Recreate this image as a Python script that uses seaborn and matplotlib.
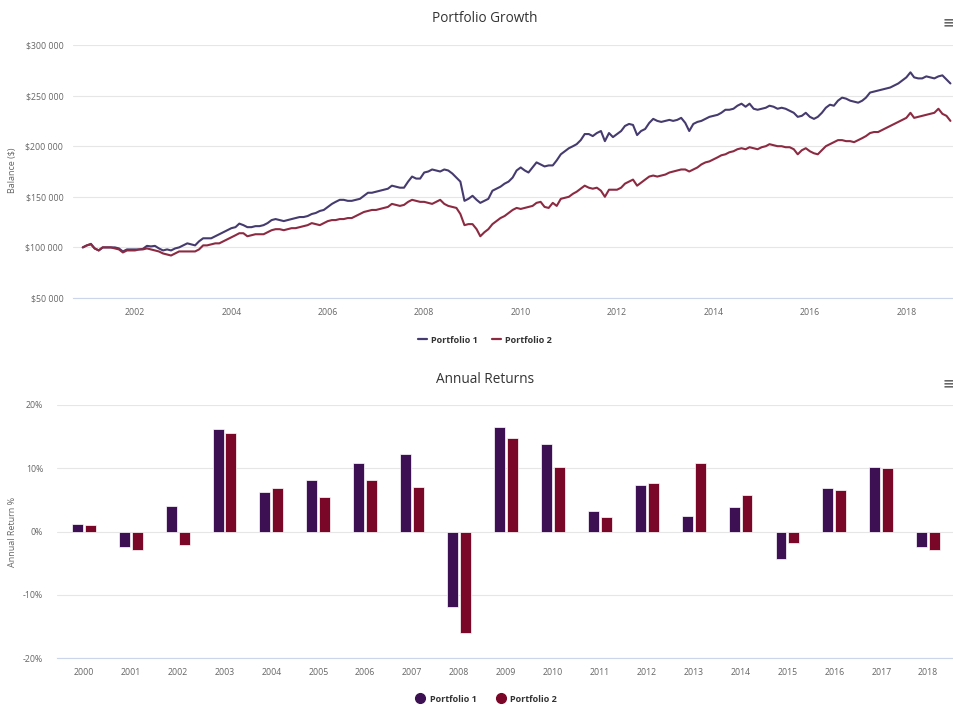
import matplotlib
matplotlib.use("Agg")
import matplotlib.pyplot as plt
import matplotlib.dates as mdates
from matplotlib.lines import Line2D
from matplotlib.ticker import FuncFormatter, MultipleLocator
import numpy as np
import pandas as pd
import seaborn as sns


# month-end balances in $1000, Dec 2000 .. Dec 2018 (one row per year)
PORTFOLIO_1 = [
    100,
    102, 103.5, 99, 97, 100, 100, 100, 100, 99, 96, 98, 98,
    98, 98, 98.5, 101.5, 101, 101.5, 99, 97, 98, 97, 99, 100,
    102, 104, 103, 102, 106, 109, 109, 109, 111, 113, 115, 117,
    119, 120, 123.5, 122, 120, 120, 121, 121, 122, 124, 127, 128,
    127, 126, 127, 128, 129, 130, 130, 131, 133, 134, 136, 137,
    140, 143, 145, 147, 147, 146, 146, 147, 148, 151, 154, 154,
    155, 156, 157, 158, 161, 160, 159, 159, 165, 170, 168, 168,
    174, 175, 177, 176, 175, 177, 176, 173, 169, 165, 146, 148,
    151, 147, 144, 146, 148, 156, 158, 160, 163, 165, 169, 176,
    179, 176, 174, 179, 184, 182, 180, 181, 181, 186, 192, 195,
    198, 200, 202, 206, 212, 212, 210, 213, 215, 205, 213, 209,
    212, 215, 220, 222, 221, 211, 215, 217, 223, 227, 225, 224,
    225, 226, 225, 226, 228, 223, 215, 222, 224, 225, 227, 229,
    230, 231, 233, 236, 236, 237, 240, 242, 239, 242, 237, 236,
    237, 238, 240, 239, 237, 238, 237, 235, 233, 229, 230, 233,
    229, 227, 229, 233, 238, 241, 240, 245, 248, 247, 245, 244,
    243, 245, 248, 253, 254, 255, 256, 257, 258, 260, 262, 265,
    268, 273, 268, 267, 267, 269, 268, 267, 269, 270, 266, 262,
]

PORTFOLIO_2 = [
    100,
    102, 103, 99, 97, 100, 100, 100, 99, 98, 95, 97, 97,
    97, 98, 98, 99, 98, 97, 96, 94, 93, 92, 94, 96,
    96, 96, 96, 96, 98, 102, 102, 103, 104, 104, 106, 108,
    110, 112, 114, 114, 111, 112, 113, 113, 113, 115, 117, 118,
    118, 117, 118, 119, 119, 120, 121, 122, 124, 123, 122, 124,
    126, 127, 127, 128, 128, 129, 129, 131, 133, 135, 136, 137,
    137, 138, 139, 140, 143, 142, 141, 142, 145, 147, 146, 145,
    145, 144, 143, 145, 147, 143, 141, 140, 139, 133, 122, 123,
    123, 118, 111, 115, 118, 123, 126, 129, 131, 134, 137, 139,
    138, 139, 140, 141, 144, 145, 140, 139, 144, 141, 148, 149,
    150, 153, 155, 158, 161, 159, 158, 159, 156, 150, 157, 157,
    157, 159, 163, 165, 167, 161, 164, 167, 170, 171, 170, 171,
    172, 174, 175, 176, 177, 177, 175, 177, 179, 182, 184, 185,
    187, 189, 191, 192, 194, 195, 197, 198, 197, 199, 198, 197,
    199, 200, 202, 201, 200, 200, 199, 199, 197, 192, 196, 198,
    195, 193, 192, 196, 200, 202, 204, 206, 206, 205, 205, 204,
    206, 208, 210, 213, 214, 214, 216, 218, 220, 222, 224, 226,
    228, 233, 228, 229, 230, 231, 232, 233, 237, 232, 230, 225,
]

YEARS = [str(y) for y in range(2000, 2019)]
RETURNS_1 = [1.2, -2.4, 4.0, 16.2, 6.2, 8.2, 10.9, 12.2, -12.0, 16.5,
             13.9, 3.2, 7.3, 2.5, 3.9, -4.3, 6.9, 10.2, -2.5]
RETURNS_2 = [1.0, -2.9, -2.2, 15.5, 6.8, 5.4, 8.2, 7.0, -16.1, 14.8,
             10.2, 2.3, 7.6, 10.9, 5.8, -1.8, 6.6, 10.1, -2.9]

NAMES = ["Portfolio 1", "Portfolio 2"]
LINE_COLORS = ["#463b6e", "#8c2a42"]
BAR_COLORS = ["#3c1053", "#7a0628"]
GRID = "#e6e6e6"
AXIS = "#ccd6eb"
LABEL = "#666666"
FONT = ["Open Sans", "DejaVu Sans"]

W, H = 954, 706


def fx(px):
    return px / W


def fy(py):
    return 1 - py / H


def style_axis(ax):
    for side in ["top", "right", "left"]:
        ax.spines[side].set_visible(False)
    ax.spines["bottom"].set_color(AXIS)
    ax.spines["bottom"].set_linewidth(0.8)
    ax.yaxis.grid(True, color=GRID, linewidth=0.8)
    ax.xaxis.grid(False)
    ax.set_axisbelow(True)
    ax.tick_params(axis="y", length=0, labelsize=6.3, labelcolor=LABEL, pad=7)
    ax.tick_params(axis="x", length=4, width=0.8, color=AXIS, labelsize=6.3,
                   labelcolor=LABEL, pad=3)
    ax.set_xlabel("")
    ax.set_ylabel("")


def plot_growth(fig):
    ax = fig.add_axes([fx(73), fy(298), fx(954 - 73), (298 - 45) / H])
    dates = pd.date_range("2000-12-01", periods=len(PORTFOLIO_1), freq="MS")
    df = pd.DataFrame({"Date": dates,
                       NAMES[0]: np.array(PORTFOLIO_1) * 1000,
                       NAMES[1]: np.array(PORTFOLIO_2) * 1000})
    df = df.melt(id_vars="Date", var_name="Portfolio", value_name="Balance")
    sns.lineplot(data=df, x="Date", y="Balance", hue="Portfolio",
                 palette=LINE_COLORS, linewidth=1.5, legend=False, ax=ax)
    ax.set_ylim(50000, 300000)
    ax.set_xlim(pd.Timestamp("2000-09-18"), pd.Timestamp("2018-12-28"))
    ax.yaxis.set_major_locator(MultipleLocator(50000))
    ax.yaxis.set_major_formatter(
        FuncFormatter(lambda v, _: "${:,}".format(int(v)).replace(",", " ")))
    ax.xaxis.set_major_locator(mdates.YearLocator(2))
    ax.xaxis.set_major_formatter(mdates.DateFormatter("%Y"))
    style_axis(ax)

    handles = [Line2D([], [], color=c, linewidth=1.6) for c in LINE_COLORS]
    fig.legend(handles, NAMES, loc="center", bbox_to_anchor=(fx(485), fy(340)),
               ncol=2, frameon=False, handlelength=1.0, handletextpad=0.5,
               columnspacing=1.5, prop={"family": FONT, "size": 6.5, "weight": "bold"},
               labelcolor="#333333")
    fig.text(fx(485), fy(18), "Portfolio Growth", ha="center", va="center",
             fontsize=9.8, color="#333333", family=FONT)
    fig.text(fx(13), fy(170), "Balance ($)", rotation=90, ha="center", va="center",
             fontsize=6.5, color=LABEL, family=FONT)


def plot_returns(fig):
    ax = fig.add_axes([fx(57), fy(658), fx(954 - 57), (658 - 405) / H])
    df = pd.DataFrame({"Year": YEARS * 2,
                       "Return": RETURNS_1 + RETURNS_2,
                       "Portfolio": [NAMES[0]] * len(YEARS) + [NAMES[1]] * len(YEARS)})
    sns.barplot(data=df, x="Year", y="Return", hue="Portfolio", order=YEARS,
                palette=BAR_COLORS, width=0.55, gap=0.15, edgecolor="white",
                linewidth=0.5, saturation=1, legend=False, ax=ax)
    ax.set_xlim(-0.57, len(YEARS) - 0.45)
    ax.set_ylim(-20, 20)
    ax.yaxis.set_major_locator(MultipleLocator(10))
    ax.yaxis.set_major_formatter(FuncFormatter(lambda v, _: "{:d}%".format(int(round(v)))))
    style_axis(ax)
    ax.tick_params(axis="y", pad=10)

    handles = [Line2D([], [], marker="o", linestyle="", markersize=7,
                      markerfacecolor=c, markeredgecolor=c) for c in BAR_COLORS]
    fig.legend(handles, NAMES, loc="center", bbox_to_anchor=(fx(487), fy(699)),
               ncol=2, frameon=False, handlelength=0.8, handletextpad=0.7,
               columnspacing=2.2, prop={"family": FONT, "size": 6.5, "weight": "bold"},
               labelcolor="#333333")
    fig.text(fx(485), fy(380), "Annual Returns", ha="center", va="center",
             fontsize=9.8, color="#333333", family=FONT)
    fig.text(fx(13), fy(532), "Annual Return %", rotation=90, ha="center", va="center",
             fontsize=6.5, color=LABEL, family=FONT)


def main():
    sns.set_theme(style="white")
    plt.rcParams["font.family"] = FONT
    fig = plt.figure(figsize=(W / 100, H / 100), dpi=100)
    plot_growth(fig)
    plot_returns(fig)
    # export menu glyphs
    for py in (22, 383):
        fig.text(fx(954), fy(py), "\u2261", ha="right", va="center",
                 fontsize=10, color=LABEL, fontweight="bold", family="DejaVu Sans")
    fig.savefig("out.png", dpi=100)


if __name__ == "__main__":
    main()
